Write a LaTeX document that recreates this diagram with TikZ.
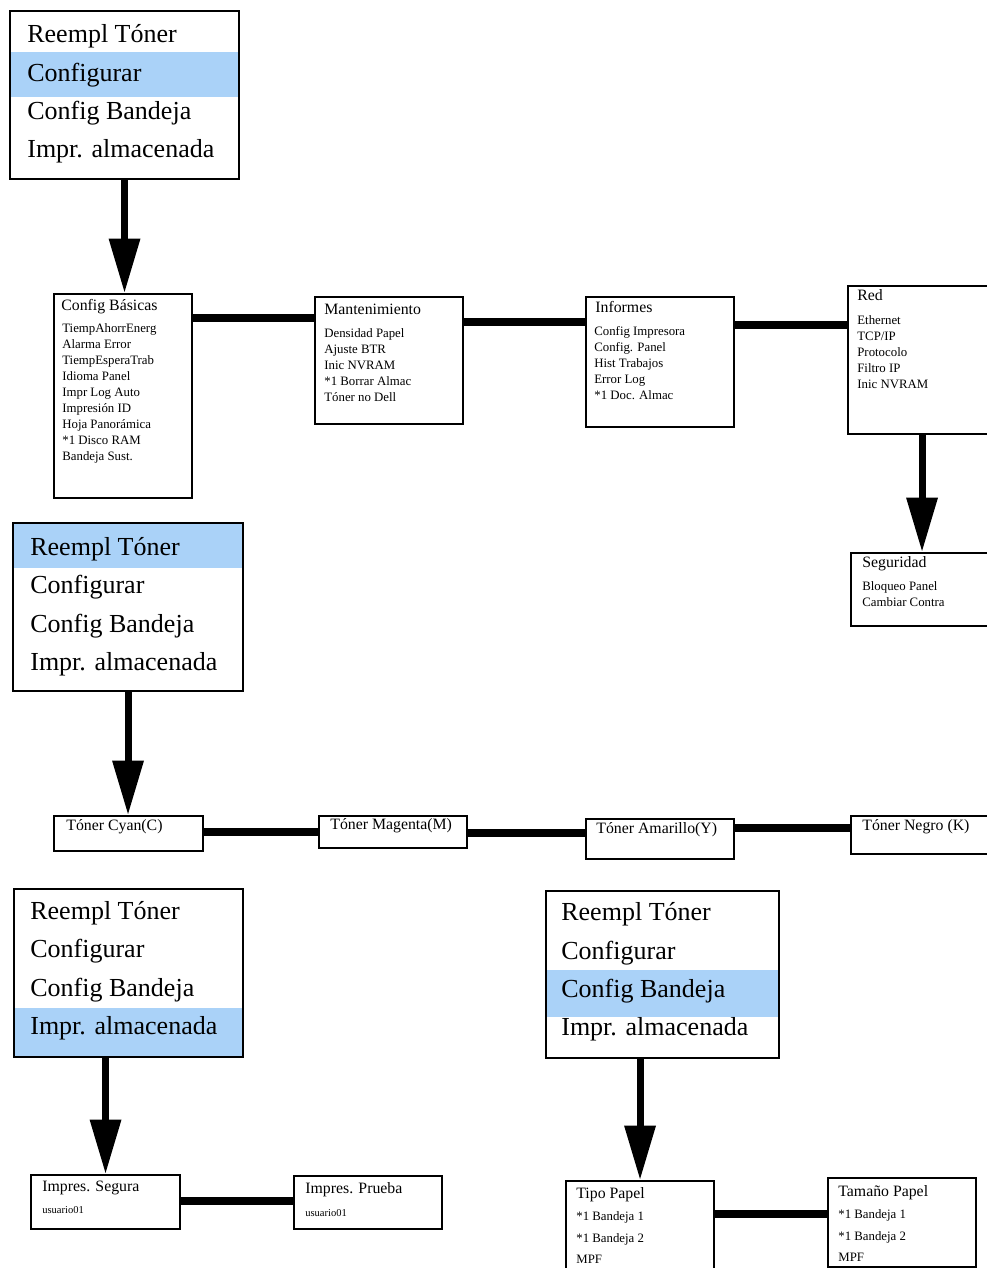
\documentclass[tikz,border=0pt]{standalone}
\usepackage{fontspec}
\setmainfont{Liberation Serif}
\usetikzlibrary{arrows.meta}

\definecolor{selblue}{RGB}{170,210,248}

\tikzset{
  menubox/.style={draw, line width=1.2pt, anchor=north west, inner sep=0, minimum width=4.6cm, minimum height=3.36cm},
  menuitem/.style={anchor=west, inner sep=0, yshift=-0.06cm, text height=1.6ex, text depth=0.45ex, font=\fontsize{14.8}{17}\selectfont},
  box/.style={draw, line width=1.2pt, anchor=north west, inner sep=0},
  boxtitle/.style={anchor=west, inner sep=0, text height=1.6ex, text depth=0.45ex, font=\fontsize{9}{11}\selectfont},
  boxitem/.style={anchor=west, inner sep=0, text height=1.6ex, text depth=0.45ex, font=\fontsize{7.3}{8}\selectfont},
  useritem/.style={anchor=west, inner sep=0, text height=1.6ex, text depth=0.45ex, font=\fontsize{6}{7}\selectfont},
  link/.style={line width=4.2pt},
  bigarrow/.style={line width=4pt, -{Triangle[width=17pt,length=31pt]}}
}

\begin{document}
\begin{tikzpicture}[x=0.02cm, y=-0.02cm]
    \clip (0,0) rectangle (987,1268);
    \fill[white] (0,0) rectangle (987,1268);

    % Menu 1 - Configurar
    \fill[selblue] (9,52) rectangle (238,97);
    \node[menubox, minimum width=4.58cm] (menuA) at (9,10) {};
    \foreach \t [count=\i] in {Reempl Tóner, Configurar, Config Bandeja, Impr. almacenada}
        \node[menuitem] (menuA\i) at (27,{35+38.4*(\i-1)}) {\t};

    % Configurar submenus
    \node[box, minimum width=2.76cm, minimum height=4.08cm] (cb) at (53,293) {};
    \node[boxtitle] (cbt) at (61,306) {Config Básicas};
    \foreach \t [count=\i] in {TiempAhorrEnerg, Alarma Error, TiempEsperaTrab, Idioma Panel, Impr Log Auto, Impresión ID, Hoja Panorámica, *1 Disco RAM, Bandeja Sust.}
        \node[boxitem] (cb\i) at (62,{328+16*(\i-1)}) {\t};

    \node[box, minimum width=2.96cm, minimum height=2.54cm] (mant) at (314,296) {};
    \node[boxtitle] (mantt) at (324,310) {Mantenimiento};
    \foreach \t [count=\i] in {Densidad Papel, Ajuste BTR, Inic NVRAM, *1 Borrar Almac, Tóner no Dell}
        \node[boxitem] (mant\i) at (324,{333+16*(\i-1)}) {\t};

    \node[box, minimum width=2.96cm, minimum height=2.6cm] (inf) at (585,296) {};
    \node[boxtitle] (inft) at (595,308) {Informes};
    \foreach \t [count=\i] in {Config Impresora, Config. Panel, Hist Trabajos, Error Log, *1 Doc. Almac}
        \node[boxitem] (inf\i) at (594,{331+16*(\i-1)}) {\t};

    \node[box, minimum width=2.96cm, minimum height=2.96cm] (red) at (847,285) {};
    \node[boxtitle] (redt) at (857,296) {Red};
    \foreach \t [count=\i] in {Ethernet, TCP/IP, Protocolo, Filtro IP, Inic NVRAM}
        \node[boxitem] (red\i) at (857,{320+16*(\i-1)}) {\t};

    \node[box, minimum width=2.9cm, minimum height=1.46cm] (seg) at (850,552) {};
    \node[boxtitle] (segt) at (862,563) {Seguridad};
    \foreach \t [count=\i] in {Bloqueo Panel, Cambiar Contra}
        \node[boxitem] (seg\i) at (862,{586+16*(\i-1)}) {\t};

    \draw[bigarrow] (menuA.south) -- (menuA.south |- cb.north);
    \draw[link] (cb.east |- 0,318) -- (mant.west |- 0,318);
    \draw[link] (mant.east |- 0,322) -- (inf.west |- 0,322);
    \draw[link] (inf.east |- 0,325) -- (red.west |- 0,325);
    \draw[bigarrow] (red.south) -- (red.south |- seg.north);

    % Menu 2 - Reempl Toner
    \fill[selblue] (12,522) rectangle (242,568);
    \node[menubox] (menuB) at (12,522) {};
    \foreach \t [count=\i] in {Reempl Tóner, Configurar, Config Bandeja, Impr. almacenada}
        \node[menuitem] (menuB\i) at (30,{548+38.2*(\i-1)}) {\t};

    \node[box, minimum width=2.98cm, minimum height=0.7cm] (cyan) at (53,815) {};
    \node[boxtitle] (cyant) at (66,826) {Tóner Cyan(C)};
    \node[box, minimum width=2.96cm, minimum height=0.64cm] (mag) at (318,815) {};
    \node[boxtitle] (magt) at (330,825) {Tóner Magenta(M)};
    \node[box, minimum width=2.96cm, minimum height=0.8cm] (ama) at (585,818) {};
    \node[boxtitle] (amat) at (596,829) {Tóner Amarillo(Y)};
    \node[box, minimum width=2.9cm, minimum height=0.76cm] (neg) at (850,815) {};
    \node[boxtitle] (negt) at (862,826) {Tóner Negro (K)};

    \draw[bigarrow] (menuB.south) -- (menuB.south |- cyan.north);
    \draw[link] (cyan.east |- 0,832) -- (mag.west |- 0,832);
    \draw[link] (mag.east |- 0,833) -- (ama.west |- 0,833);
    \draw[link] (ama.east |- 0,828) -- (neg.west |- 0,828);

    % Menu 3 - Impr. almacenada
    \fill[selblue] (13,1008) rectangle (242,1056);
    \node[menubox, minimum width=4.58cm] (menuC) at (13,888) {};
    \foreach \t [count=\i] in {Reempl Tóner, Configurar, Config Bandeja, Impr. almacenada}
        \node[menuitem] (menuC\i) at (30,{912+38.3*(\i-1)}) {\t};

    \node[box, minimum width=2.98cm, minimum height=1.08cm] (segura) at (30,1174) {};
    \node[boxtitle] (segurat) at (42,1187) {Impres. Segura};
    \node[useritem] (segurau) at (42,1209) {usuario01};
    \node[box, minimum width=2.96cm, minimum height=1.06cm] (prueba) at (293,1175) {};
    \node[boxtitle] (pruebat) at (305,1189) {Impres. Prueba};
    \node[useritem] (pruebau) at (305,1212) {usuario01};

    \draw[bigarrow] (segura.north |- menuC.south) -- (segura.north);
    \draw[link] (segura.east |- 0,1201) -- (prueba.west |- 0,1201);

    % Menu 4 - Config Bandeja
    \fill[selblue] (545,970) rectangle (778,1017);
    \node[menubox, minimum width=4.66cm, minimum height=3.34cm] (menuD) at (545,890) {};
    \foreach \t [count=\i] in {Reempl Tóner, Configurar, Config Bandeja, Impr. almacenada}
        \node[menuitem] (menuD\i) at (561,{913+38.4*(\i-1)}) {\t};

    \node[box, minimum width=2.96cm, minimum height=2.0cm] (tipo) at (565,1180) {};
    \node[boxtitle] (tipot) at (576,1194) {Tipo Papel};
    \foreach \t [count=\i] in {*1 Bandeja 1, *1 Bandeja 2, MPF}
        \node[boxitem] (tipo\i) at (576,{1216+21.5*(\i-1)}) {\t};
    \node[box, minimum width=2.96cm, minimum height=1.78cm] (tam) at (827,1177) {};
    \node[boxtitle] (tamt) at (838,1192) {Tamaño Papel};
    \foreach \t [count=\i] in {*1 Bandeja 1, *1 Bandeja 2, MPF}
        \node[boxitem] (tam\i) at (838,{1214+21.5*(\i-1)}) {\t};

    \draw[bigarrow] (tipo.north |- menuD.south) -- (tipo.north);
    \draw[link] (tipo.east |- 0,1214) -- (tam.west |- 0,1214);
\end{tikzpicture}
\end{document}
